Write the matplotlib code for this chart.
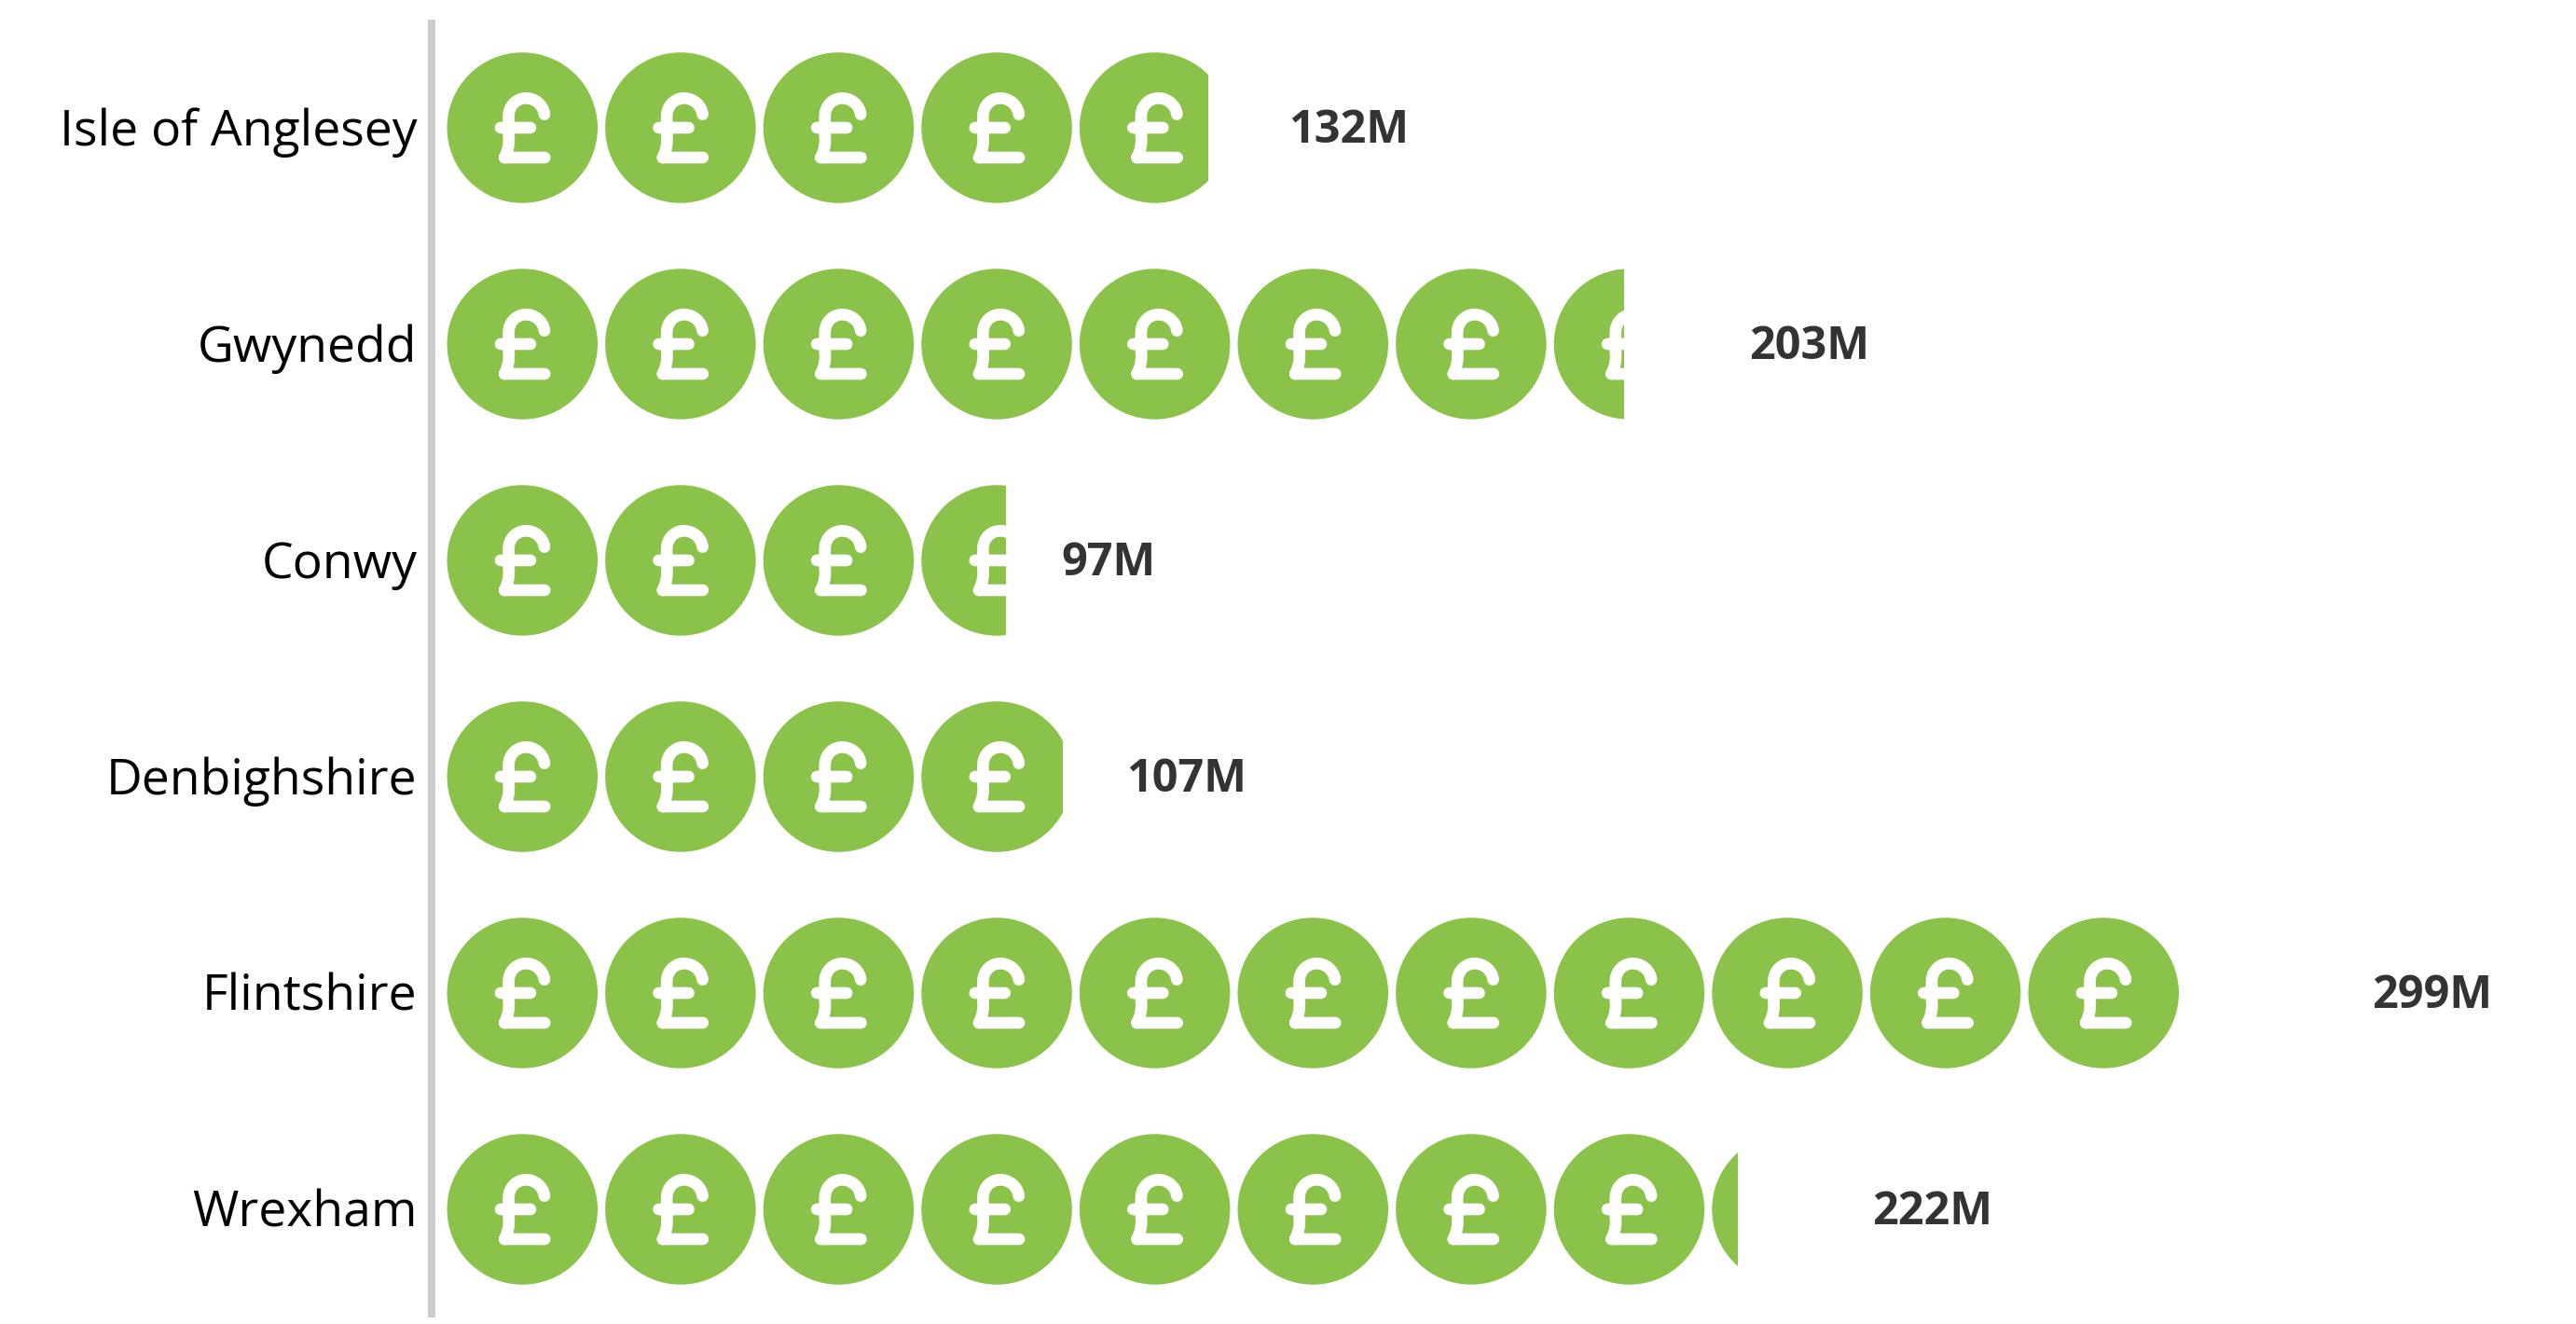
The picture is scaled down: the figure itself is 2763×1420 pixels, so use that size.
import numpy as np
import matplotlib; matplotlib.use("Agg")
import matplotlib.pyplot as plt
from matplotlib.patches import Ellipse, PathPatch, Rectangle
from matplotlib.path import Path
from matplotlib.transforms import ScaledTranslation

counties = ["Isle of Anglesey", "Gwynedd", "Conwy", "Denbighshire", "Flintshire", "Wrexham"]
spend_m = [132, 203, 97, 107, 299, 222]
icons_filled = [4.82, 7.45, 3.54, 3.9, 11.0, 8.17]  # icons don't line up with the label scale

W, H = 2763, 1420
X0 = 463; PX_M = 6.96  # px per million
TOP = 21; ROW = 232
ICON_START = 16.5; PITCH = 169.6; D = 161.5
GREEN = "#8BC34A"

plt.rcParams['font.family'] = ['Open Sans', 'DejaVu Sans']
fig = plt.figure(figsize=(W/100, H/100), dpi=100)
ax = fig.add_axes([X0/W, 1-(TOP+6*ROW)/H, (W-X0)/W, 6*ROW/H])
ax.set_xlim(0, (W-X0)/PX_M); ax.set_ylim(5.5, -0.5)

# pound sign, px offsets from the icon centre
glyph_v = [(23.7, -14.3), (22.5, -25), (13, -31.7), (4, -31.7), (-6, -31.7), (-14.7, -24), (-14.7, -12),
           (-14.7, 8), (-13, 20), (-19, 32), (-19, 32), (24, 32),
           (-23.3, 0), (8.7, 0)]
glyph_c = [Path.MOVETO, Path.CURVE4, Path.CURVE4, Path.CURVE4, Path.CURVE4, Path.CURVE4, Path.CURVE4,
           Path.LINETO, Path.CURVE3, Path.CURVE3, Path.MOVETO, Path.LINETO,
           Path.MOVETO, Path.LINETO]
glyph_v = np.array(glyph_v)

for i, (v, n) in enumerate(zip(spend_m, icons_filled)):
    left = (ICON_START-1)/PX_M
    clip = Rectangle((left, i-0.5), n*PITCH/PX_M, 1, transform=ax.transData)
    for k in range(int(np.ceil(n))):
        cx = (ICON_START + D/2 + k*PITCH)/PX_M
        c = Ellipse((cx, i), D/PX_M, D/ROW, facecolor=GREEN, edgecolor="none")
        ax.add_patch(c); c.set_clip_path(clip)
        verts = np.column_stack([cx + glyph_v[:, 0]/PX_M, i + glyph_v[:, 1]/ROW])
        g = PathPatch(Path(verts, glyph_c), facecolor="none", edgecolor="white", linewidth=9.1, capstyle="round", joinstyle="round")
        ax.add_patch(g); g.set_clip_path(clip)
    ax.text(v, i+0.013, f"{v}M", ha="left", va="center", fontsize=35, fontweight="bold", color="#333333")

ax.set_yticks(range(len(counties))); ax.set_yticklabels(counties, fontsize=38.5, color="black")
ax.tick_params(axis="y", length=0, pad=11)
up = ScaledTranslation(0, 1/72, fig.dpi_scale_trans)
for l in ax.get_yticklabels(): l.set_transform(l.get_transform()+up)
ax.set_xticks([])
for s in ["top", "right", "bottom"]: ax.spines[s].set_visible(False)
ax.spines["left"].set_linewidth(5.76); ax.spines["left"].set_color("#CCCCCC"); ax.spines["left"].set_capstyle("butt")
fig.savefig("out.png", dpi=100, facecolor="white")
